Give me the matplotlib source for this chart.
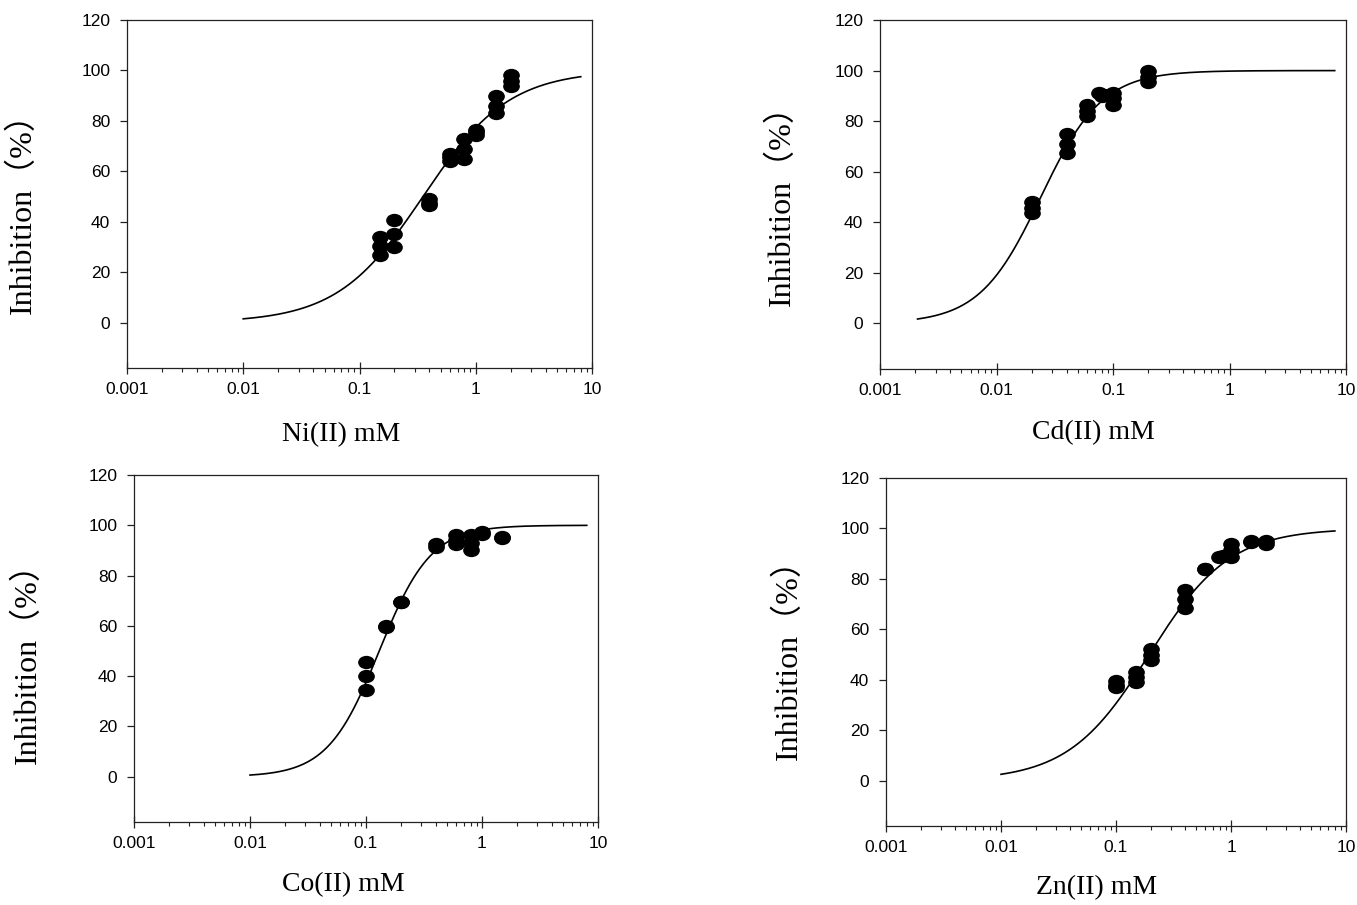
from matplotlib import pyplot as plt
from matplotlib.path import Path
import matplotlib.ticker as ticker
import numpy as np

W, H = 1357, 905

# metal concentrations (mM) and measured inhibition (%)
ni_x = [0.15, 0.15, 0.15, 0.2, 0.2, 0.2, 0.4, 0.4, 0.4, 0.6, 0.6, 0.6,
        0.8, 0.8, 0.8, 1.0, 1.0, 1.0, 1.5, 1.5, 1.5, 2.0, 2.0, 2.0]
ni_y = [34, 30.5, 27, 40.5, 35, 30, 49, 47.5, 46.5, 67, 65.5, 64,
        73, 69, 65, 76.5, 75.5, 74.5, 90, 86, 83, 98, 96, 94]

cd_x = [0.02, 0.02, 0.02, 0.04, 0.04, 0.04, 0.06, 0.06, 0.06,
        0.076, 0.084, 0.08, 0.1, 0.1, 0.1, 0.2, 0.2, 0.2]
cd_y = [48, 45.5, 43.5, 75, 71, 67.5, 86.5, 84, 82,
        91, 90.5, 90, 91, 89, 86.5, 100, 97.5, 95.5]

co_x = [0.1, 0.1, 0.1, 0.15, 0.15, 0.2, 0.2, 0.4, 0.4, 0.6, 0.6, 0.6,
        0.8, 0.8, 0.8, 1.0, 1.0, 1.5, 1.5]
co_y = [45.7, 40, 34.5, 60, 59.5, 69.5, 69.5, 92.5, 91.5, 96, 94, 92.5,
        96, 93, 90, 97.5, 96.5, 95.5, 95]

zn_x = [0.1, 0.1, 0.1, 0.15, 0.15, 0.15, 0.2, 0.2, 0.2, 0.4, 0.4, 0.4,
        0.6, 0.6, 0.78, 0.85, 1.0, 1.0, 1.0, 1.5, 1.5, 2.0, 2.0]
zn_y = [39.5, 38, 37, 43, 41, 39, 52, 50, 48, 75.5, 72, 68.5,
        84, 84, 88.5, 89, 94, 91.5, 88.5, 95, 94.5, 95, 94]

# Hill fit: IC50 (mM), slope, curve range
ni_fit = (0.352, 1.175, 0.01, 8)
cd_fit = (0.024, 1.65, 0.0021, 8)
co_fit = (0.13, 1.95, 0.01, 8)
zn_fit = (0.194, 1.236, 0.01, 8)

names = ["Ni(II) mM", "Cd(II) mM", "Co(II) mM", "Zn(II) mM"]

# axes boxes in pixels: left, right, top, bottom
boxes = [(127, 592, 20, 368), (880, 1346, 20, 369),
         (134, 598, 475, 822), (886, 1346, 478, 826)]
ylab_pos = [(23, 206), (782, 198), (28, 656), (789, 652)]
xlab_pos = [(341, 435), (1093, 433), (343, 885), (1097, 888)]

circ = Path.unit_circle()
ellipse = Path(circ.vertices * [1.0, 0.78], circ.codes)

panels = [(ni_x, ni_y, ni_fit), (cd_x, cd_y, cd_fit),
          (co_x, co_y, co_fit), (zn_x, zn_y, zn_fit)]

fig = plt.figure(figsize=(W / 100, H / 100), dpi=100)

for i, (xs, ys, fit) in enumerate(panels):
    l, r, t, b = boxes[i]
    ax = fig.add_axes([l / W, 1 - b / H, (r - l) / W, (b - t) / H])

    ic50, slope, x0, x1 = fit
    xc = np.logspace(np.log10(x0), np.log10(x1), 300)
    yc = 100 / (1 + (ic50 / xc) ** slope)
    ax.plot(xc, yc, color='black', lw=1.2)
    ax.plot(xs, ys, linestyle='none', marker=ellipse, markersize=11,
            color='black')

    ax.set_xscale('log')
    ax.set_xlim(0.001, 10)
    ax.set_ylim(-18, 120)
    ax.set_yticks(np.arange(0, 121, 20))
    ax.xaxis.set_major_locator(ticker.FixedLocator([0.001, 0.01, 0.1, 1, 10]))
    ax.xaxis.set_major_formatter(ticker.FixedFormatter(["0.001", "0.01", "0.1", "1", "10"]))
    ax.xaxis.set_minor_locator(ticker.LogLocator(base=10, subs=np.arange(2, 10)))
    ax.xaxis.set_minor_formatter(ticker.NullFormatter())

    for s in ax.spines.values():
        s.set_linewidth(0.9)
        s.set_color('#222222')
    ax.tick_params(axis='y', direction='out', length=5, width=0.9,
                   labelsize=12.5, pad=7, colors='#222222')
    ax.tick_params(axis='x', which='major', direction='inout', length=8,
                   width=0.9, labelsize=12.5, pad=6, colors='#222222')
    ax.tick_params(axis='x', which='minor', direction='out', length=3,
                   width=0.8, colors='#222222')
    for lab in ax.get_xticklabels() + ax.get_yticklabels():
        lab.set_family(['Liberation Sans', 'DejaVu Sans'])
        lab.set_color('black')

    fig.text(ylab_pos[i][0] / W, 1 - ylab_pos[i][1] / H, "Inhibition（%）",
             rotation=90, ha='center', va='center', fontsize=23,
             family=['Liberation Serif', 'Noto Sans CJK SC'])
    fig.text(xlab_pos[i][0] / W, 1 - xlab_pos[i][1] / H, names[i],
             ha='center', va='center', fontsize=20,
             family=['Liberation Serif', 'DejaVu Serif'])

plt.savefig("out.png")
